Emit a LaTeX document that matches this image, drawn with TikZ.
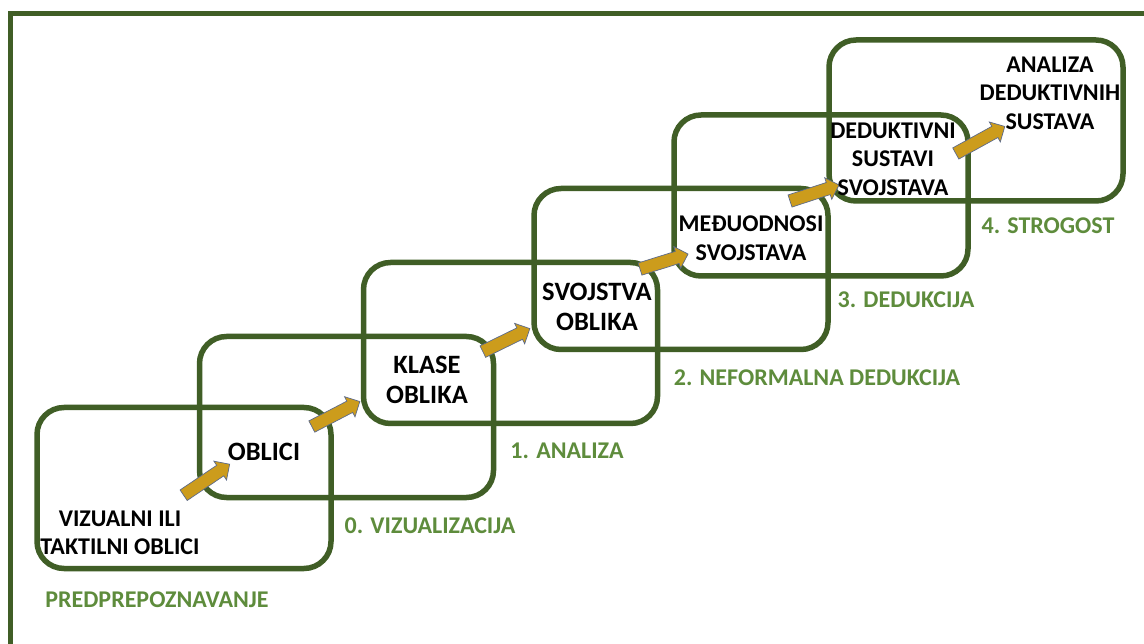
\documentclass[tikz,border=0pt]{standalone}
\usepackage{fontspec}
\setmainfont{Carlito}
\usetikzlibrary{calc,shapes.arrows}
\definecolor{boxgreen}{HTML}{405E26}
\definecolor{labgreen}{HTML}{5E8C3C}
\definecolor{gold}{HTML}{CC9C1C}
\definecolor{arrowedge}{HTML}{5C6A8A}
\tikzset{
  stage/.style={draw=boxgreen, line width=5.5pt, rounded corners=27pt,
    minimum width=294pt, minimum height=161pt, inner sep=0pt},
  stagetext/.style={font=\fontsize{24}{28.5}\selectfont\bfseries, text=black,
    align=center, inner sep=0pt},
  bigtext/.style={stagetext, font=\fontsize{26.5}{30.5}\selectfont\bfseries},
  levellabel/.style={font=\fontsize{24}{28.5}\selectfont\bfseries, text=labgreen,
    inner sep=0pt, anchor=base},
  garrow/.style={single arrow, draw=arrowedge, line width=0.7pt, fill=gold,
    inner xsep=0pt, inner ysep=6pt, single arrow head extend=5pt,
    single arrow tip angle=90, minimum width=22pt}
}
\newcommand\goldarrow[2]{%
  \path let \p1=($(#2)-(#1)$), \n1={atan2(\y1,\x1)}, \n2={veclen(\x1,\y1)} in
    node[garrow, minimum height=\n2, rotate=\n1] at ($(#1)!0.5!(#2)$) {};}
\begin{document}
\begin{tikzpicture}[x=1pt,y=-1pt]
\useasboundingbox (0,0) rectangle (1144,644);
\clip (0,0) rectangle (1144,644);
\fill[white] (0,0) rectangle (1144,644);
% outer frame
\draw[boxgreen, line width=5pt] (10.5,660) -- (10.5,13.5) -- (1160,13.5);
% stage boxes
\node[stage] (b0) at (184,488) {};
\node[stage] (b1) at (346.5,417) {};
\node[stage] (b2) at (510.5,343) {};
\node[stage] (b3) at (681,269) {};
\node[stage] (b4) at (821,195.5) {};
\node[stage] (b5) at (976,120.5) {};
% arrow end points
\coordinate (a1s) at (181,497); \coordinate (a1e) at (227,466);
\coordinate (a2s) at (309,428); \coordinate (a2e) at (357,403);
\coordinate (a3s) at (480,353); \coordinate (a3e) at (527,330);
\coordinate (a4s) at (637,270); \coordinate (a4e) at (685,255);
\coordinate (a5s) at (787,202); \coordinate (a5e) at (836,186);
\coordinate (a6s) at (953,155); \coordinate (a6e) at (1002,128);
\goldarrow{a1s}{a1e}
\goldarrow{a2s}{a2e}
\goldarrow{a3s}{a3e}
\goldarrow{a4s}{a4e}
\goldarrow{a5s}{a5e}
\goldarrow{a6s}{a6e}
% stage texts
\node[stagetext] (t0) at (120,533) {VIZUALNI ILI\\TAKTILNI OBLICI};
\node[bigtext] (t1) at (264,452) {OBLICI};
\node[bigtext] (t2) at (427,380) {KLASE\\OBLIKA};
\node[bigtext] (t3) at (597,307) {SVOJSTVA\\OBLIKA};
\node[stagetext] (t4) at (751,238) {MEĐUODNOSI\\SVOJSTAVA};
\node[stagetext] (t5) at (893,159) {DEDUKTIVNI\\SUSTAVI\\SVOJSTAVA};
\node[stagetext] (t6) at (1050,93) {ANALIZA\\DEDUKTIVNIH\\SUSTAVA};
% level labels
\node[levellabel] (l0) at (157,607) {PREDPREPOZNAVANJE};
\node[levellabel] (l1) at (430,533) {0. VIZUALIZACIJA};
\node[levellabel] (l2) at (567,458) {1. ANALIZA};
\node[levellabel] (l3) at (817,385) {2. NEFORMALNA DEDUKCIJA};
\node[levellabel] (l4) at (906,308) {3. DEDUKCIJA};
\node[levellabel] (l5) at (1048,234) {4. STROGOST};
\end{tikzpicture}
\end{document}
